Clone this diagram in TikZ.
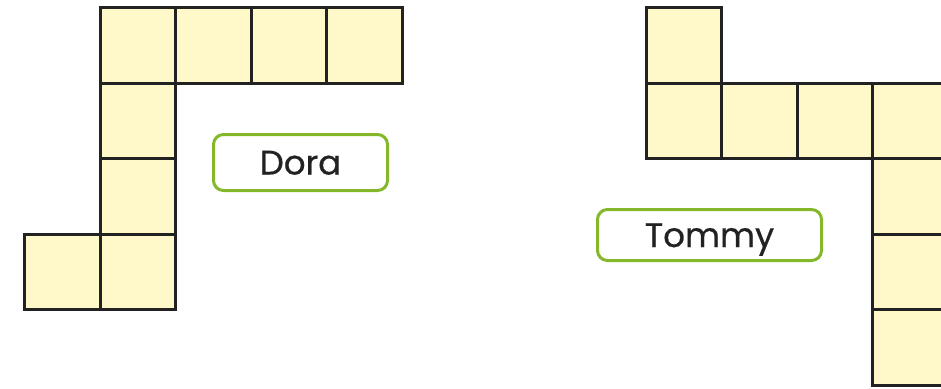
\documentclass[tikz,border=0pt]{standalone}
\usepackage{fontspec}
\setmainfont{Poppins}[FakeBold=0.6]
\definecolor{cellfill}{HTML}{FFF8C8}
\definecolor{cellline}{HTML}{222222}
\definecolor{tagline}{HTML}{84B82A}
\definecolor{tagtext}{HTML}{222222}
\tikzset{
  cell/.style={draw=cellline, fill=cellfill, line width=2.8pt, minimum size=75.5pt, inner sep=0pt, outer sep=0pt},
  tag/.style={draw=tagline, line width=3pt, rounded corners=10pt, inner sep=0pt, font=\fontsize{34}{36}\selectfont, text=tagtext, text height=24pt, text depth=0pt}
}
\begin{document}
\begin{tikzpicture}[x=1pt,y=-1pt]
\useasboundingbox (0,0) rectangle (941,388);
\clip (0,0) rectangle (941,388);
% Dora's shape
\node[cell] (d1) at (138,45.5) {};
\node[cell] (d2) at (213.5,45.5) {};
\node[cell] (d3) at (289,45.5) {};
\node[cell] (d4) at (364.5,45.5) {};
\node[cell] (d5) at (138,121) {};
\node[cell] (d6) at (138,196.5) {};
\node[cell] (d7) at (138,272) {};
\node[cell] (d8) at (62.5,272) {};
% Tommy's shape
\node[cell] (t1) at (684,45.5) {};
\node[cell] (t2) at (684,121) {};
\node[cell] (t3) at (759.5,121) {};
\node[cell] (t4) at (835,121) {};
\node[cell] (t5) at (910.5,121) {};
\node[cell] (t6) at (910.5,196.5) {};
\node[cell] (t7) at (910.5,272) {};
\node[cell] (t8) at (910.5,347.5) {};
% labels
\node[tag, minimum width=174pt, minimum height=56pt] (dora) at (300.5,162.5) {Dora};
\node[tag, minimum width=224pt, minimum height=51pt] (tommy) at (709.5,235) {Tommy};
\end{tikzpicture}
\end{document}
